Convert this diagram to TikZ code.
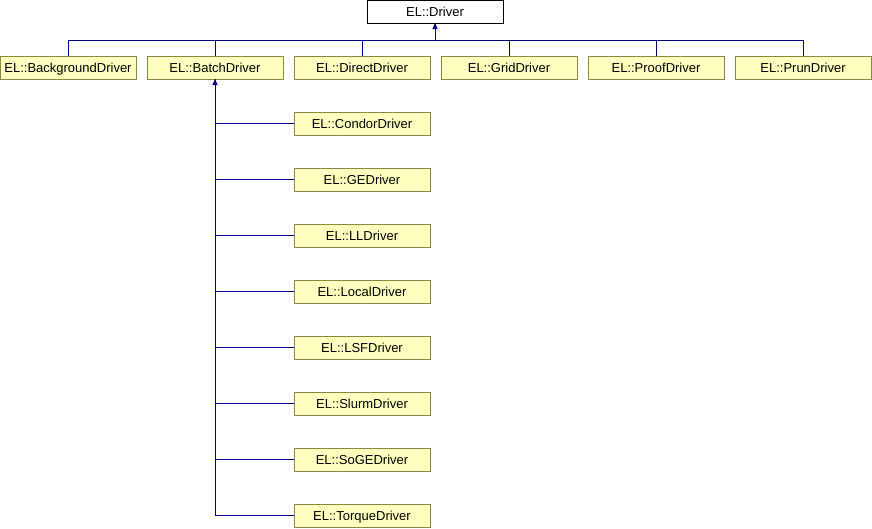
\documentclass[tikz,border=0pt]{standalone}
\usepackage{fontspec}
\setmainfont{Liberation Sans}
\usetikzlibrary{arrows.meta}
\definecolor{classfill}{RGB}{255,255,192}
\definecolor{classline}{RGB}{136,136,64}
\definecolor{inherit}{RGB}{0,0,128}
\begin{document}
\begin{tikzpicture}[
    x=1pt, y=-1pt,
    cls/.style={rectangle, draw=classline, fill=classfill, line width=1pt, minimum width=136pt, minimum height=23pt, inner sep=0pt, outer sep=0pt, text height=10.5pt, text depth=1pt, font=\fontsize{13}{15}\selectfont},
    base/.style={cls, draw=black, fill=white},
    edge/.style={draw=inherit, line width=1pt},
    arrow/.style={edge, -{Triangle[width=5pt,length=6pt]}}
]
    \useasboundingbox (0,0) rectangle (872,528);

    % Base class
    \node[base] (driver) at (435,11.5) {EL::Driver};

    % Direct subclasses
    \node[cls] (background) at (68,67.5) {EL::BackgroundDriver};
    \node[cls] (batch) at (215,67.5) {EL::BatchDriver};
    \node[cls] (direct) at (362,67.5) {EL::DirectDriver};
    \node[cls] (grid) at (509,67.5) {EL::GridDriver};
    \node[cls] (proof) at (656,67.5) {EL::ProofDriver};
    \node[cls] (prun) at (803,67.5) {EL::PrunDriver};

    % Batch subclasses
    \node[cls] (condor) at (362,123.5) {EL::CondorDriver};
    \node[cls] (ge) at (362,179.5) {EL::GEDriver};
    \node[cls] (ll) at (362,235.5) {EL::LLDriver};
    \node[cls] (local) at (362,291.5) {EL::LocalDriver};
    \node[cls] (lsf) at (362,347.5) {EL::LSFDriver};
    \node[cls] (slurm) at (362,403.5) {EL::SlurmDriver};
    \node[cls] (soge) at (362,459.5) {EL::SoGEDriver};
    \node[cls] (torque) at (362,515.5) {EL::TorqueDriver};

    % Connections to Driver
    \coordinate (join) at (435,40);
    \draw[arrow] (join) -- (driver);
    \draw[edge] (background.north) |- (join);
    \draw[edge] (batch.north) |- (join);
    \draw[edge] (direct.north) |- (join);
    \draw[edge] (grid.north) |- (join);
    \draw[edge] (proof.north) |- (join);
    \draw[edge] (prun.north) |- (join);

    % Connections to BatchDriver
    \draw[edge] (condor.west) -| (batch.south);
    \draw[edge] (ge.west) -| (batch.south);
    \draw[edge] (ll.west) -| (batch.south);
    \draw[edge] (local.west) -| (batch.south);
    \draw[edge] (lsf.west) -| (batch.south);
    \draw[edge] (slurm.west) -| (batch.south);
    \draw[edge] (soge.west) -| (batch.south);
    \draw[arrow] (torque.west) -| (batch.south);
\end{tikzpicture}
\end{document}
